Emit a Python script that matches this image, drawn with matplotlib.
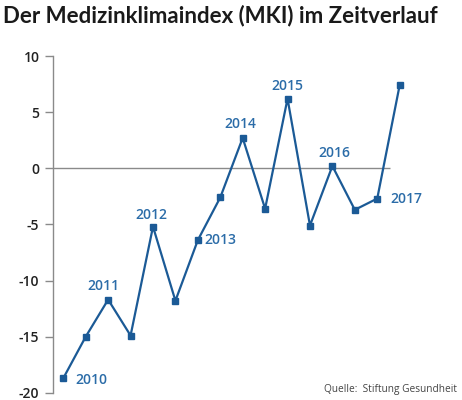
import matplotlib.pyplot as plt

# Halbjahreswerte des MKI, 2010 bis 2017
werte = [-18.7, -15.0, -11.7, -14.9, -5.2, -11.8, -6.4, -2.6,
         2.7, -3.6, 6.2, -5.1, 0.2, -3.7, -2.7, 7.4]
jahre = ['2010', '2011', '2012', '2013', '2014', '2015', '2016', '2017']
jahr_idx = [0, 2, 4, 6, 8, 10, 12, 14]
yticks = [10, 5, 0, -5, -10, -15, -20]

blau = '#1b5a96'
label_blau = '#2b6ca8'

plt.rcParams['font.family'] = ['Open Sans', 'DejaVu Sans']

fig = plt.figure(figsize=(4.62, 4.0), dpi=100)
ax = fig.add_axes([53.3 / 462, 0.018, (462 - 53.3) / 462, 0.842])

x = list(range(len(werte)))
ax.plot(x, werte, color=blau, lw=1.6, marker='s', ms=4.2, zorder=3)
ax.hlines(0, -0.446, 14.57, color='#8a8a8a', lw=1.0, zorder=1)

# Beschriftung der Jahre (Versatz in Punkten)
versatz = {
    '2010': (8.5, -1.5, 'left'),
    '2011': (-3.5, 10, 'center'),
    '2012': (-1, 8.5, 'center'),
    '2013': (5, 0, 'left'),
    '2014': (-1.5, 10, 'center'),
    '2015': (0, 9, 'center'),
    '2016': (1.5, 9.5, 'center'),
    '2017': (9.5, 0, 'left'),
}
for j, i in zip(jahre, jahr_idx):
    dx, dy, ha = versatz[j]
    ax.annotate(j, (i, werte[i]), xytext=(dx, dy), textcoords='offset points',
                ha=ha, va='center', fontsize=10, fontweight='semibold',
                color=label_blau)

ax.set_xlim(-0.446, 17.78)
ax.set_ylim(-20, 10)
ax.set_yticks(yticks)
ax.set_yticklabels([str(t) for t in yticks])
ax.tick_params(axis='y', length=6, width=1, color='#8a8a8a', pad=4,
               labelsize=10, labelcolor='#222222')
ax.set_xticks([])
for s in ['top', 'right', 'bottom']:
    ax.spines[s].set_visible(False)
ax.spines['left'].set_color('#8a8a8a')
ax.spines['left'].set_linewidth(1)
for lab in ax.get_yticklabels():
    lab.set_fontweight('semibold')

fig.text(0.006, 0.96, 'Der Medizinklimaindex (MKI) im Zeitverlauf',
         fontsize=16, fontweight='bold', color='#1a1a1a',
         family=['Lato', 'DejaVu Sans'], ha='left', va='center')
fig.text(0.99, 0.027, 'Quelle:  Stiftung Gesundheit', fontsize=7.3,
         color='#444444', ha='right', va='center')

fig.savefig('out.png', dpi=100)
